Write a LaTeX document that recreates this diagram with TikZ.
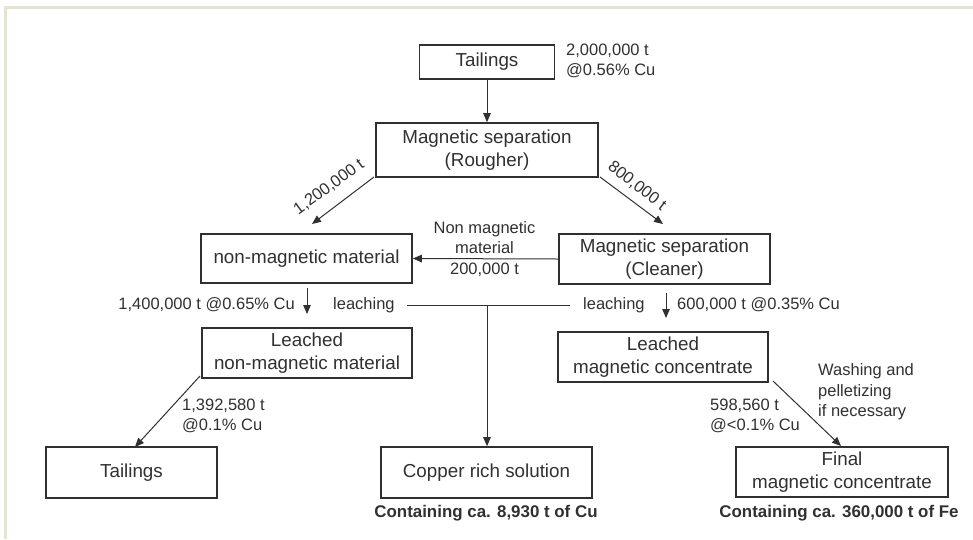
\documentclass[tikz,border=0pt]{standalone}
\usepackage{fontspec}
\setmainfont{Liberation Sans}
\usetikzlibrary{arrows.meta}
\definecolor{ink}{HTML}{303030}
\definecolor{framec}{HTML}{E4E4D0}
\begin{document}
\begin{tikzpicture}[x=1pt,y=-1pt,
  box/.style={draw=ink, line width=1.6pt, text=ink, align=center, inner sep=0pt, font=\fontsize{18.8}{22.5}\selectfont},
  lbl/.style={text=ink, inner sep=0pt, font=\fontsize{16.5}{20.5}\selectfont},
  boldlbl/.style={text=ink, inner sep=0pt, font=\fontsize{16.9}{20}\selectfont\bfseries},
  arr/.style={draw=ink, line width=1pt, -{Triangle[length=9pt,width=7.5pt]}},
  ln/.style={draw=ink, line width=1pt}]
\useasboundingbox (0,0) rectangle (973,539);
\fill[framec] (4,6) rectangle (973,8.5);
\fill[framec] (4,6) rectangle (6.5,539);

% boxes
\node[box, minimum width=135pt, minimum height=34pt] (tail) at (487,62) {Tailings};
\node[box, minimum width=222pt, minimum height=54pt] (rough) at (487,150) {Magnetic separation\\(Rougher)};
\node[box, minimum width=211pt, minimum height=49pt] (nmm) at (306.5,258.5) {non-magnetic material};
\node[box, minimum width=211pt, minimum height=50pt] (clean) at (664.5,259) {Magnetic separation\\(Cleaner)};
\node[box, minimum width=210pt, minimum height=50pt] (lnmm) at (307,353) {Leached\\non-magnetic material};
\node[box, minimum width=210pt, minimum height=50pt] (lmc) at (663,357) {Leached\\magnetic concentrate};
\node[box, minimum width=171pt, minimum height=51pt] (tail2) at (131.5,472.5) {Tailings};
\node[box, minimum width=211pt, minimum height=51pt] (copper) at (486.5,472.5) {Copper rich solution};
\node[box, minimum width=212pt, minimum height=50pt] (final) at (842,472) {Final\\magnetic concentrate};

% labels
\node[lbl, anchor=west, align=left] (l0) at (566,61) {2,000,000 t\\@0.56\% Cu};
\node[lbl, rotate=36] (l1) at (329,187) {1,200,000 t};
\node[lbl, rotate=-38] (l2) at (637,186) {800,000 t};
\node[lbl, align=center] (l3) at (484.5,249) {Non magnetic\\material\\200,000 t};
\node[lbl, anchor=east] (l4) at (295,305) {1,400,000 t @0.65\% Cu};
\node[lbl, anchor=west] (leachL) at (333,305) {leaching};
\node[lbl, anchor=west] (leachR) at (583,305) {leaching};
\node[lbl, anchor=west] (l5) at (677,305) {600,000 t @0.35\% Cu};
\node[lbl, anchor=west, align=left] (l6) at (182,416) {1,392,580 t\\@0.1\% Cu};
\node[lbl, anchor=west, align=left] (l7) at (710,416) {598,560 t\\@<0.1\% Cu};
\node[lbl, anchor=west, align=left] (l8) at (818,392) {Washing and\\pelletizing\\if necessary};
\node[boldlbl] (b1) at (486,513) {Containing ca. 8,930 t of Cu};
\node[boldlbl] (b2) at (839,513) {Containing ca. 360,000 t of Fe};

% coordinates
\coordinate (r1) at (374,177);
\coordinate (r1e) at (312,224);
\coordinate (r2) at (600,177);
\coordinate (r2e) at (663,224);
\coordinate (sL) at (307,288);
\coordinate (sLe) at (307,314);
\coordinate (sR) at (666,293);
\coordinate (sRe) at (666,318);
\coordinate (hL) at (407,305);
\coordinate (hR) at (570,305);
\coordinate (hM) at (487,305);
\coordinate (d1) at (200,376);
\coordinate (d1e) at (135,447);
\coordinate (d2) at (773,381);
\coordinate (d2e) at (841,446);

% connectors
\draw[arr] (tail.south) -- (tail.south |- rough.north);
\draw[arr] (r1) -- (r1e);
\draw[arr] (r2) -- (r2e);
\draw[arr] (clean.west) -- (nmm.east);
\draw[arr] (sL) -- (sLe);
\draw[arr] (sR) -- (sRe);
\draw[ln] (hL) -- (hR);
\draw[arr] (hM) -- (hM |- copper.north);
\draw[arr] (d1) -- (d1e);
\draw[arr] (d2) -- (d2e);
\end{tikzpicture}
\end{document}
